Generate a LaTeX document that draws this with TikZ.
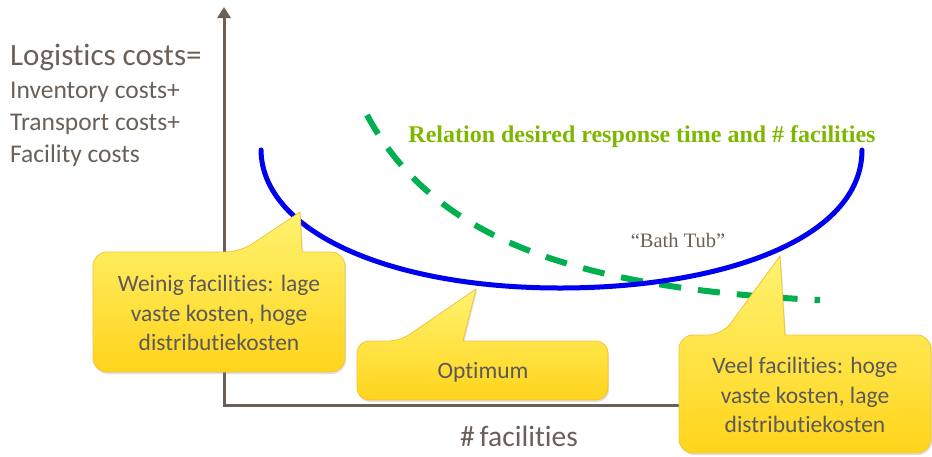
\documentclass[tikz,border=0pt]{standalone}
\usepackage{fontspec}
\setmainfont[Ligatures=NoCommon]{Carlito}
\newfontfamily\timesfont{Liberation Serif}
\usetikzlibrary{arrows.meta,positioning,shadows}
\definecolor{AxisGray}{HTML}{6B6058}
\definecolor{TubBlue}{HTML}{0000F0}
\definecolor{DashGreen}{HTML}{00B050}
\definecolor{TitleGreen}{HTML}{7DB800}
\definecolor{BubbleTop}{HTML}{FFF370}
\definecolor{BubbleBottom}{HTML}{FFD41C}
\definecolor{BubbleEdge}{HTML}{F2C53A}
\definecolor{BubbleText}{HTML}{5A5A5A}

\begin{document}
\begin{tikzpicture}[x=1pt,y=-1pt,
    axisline/.style={draw=AxisGray,line width=3pt},
    bubble/.style={draw=BubbleEdge,line width=0.8pt,top color=BubbleTop,
      bottom color=BubbleBottom,
      drop shadow={opacity=0.25,shadow xshift=1pt,shadow yshift=-2pt}},
    bubbletext/.style={text=BubbleText,align=center,inner sep=0pt,
      font=\fontsize{23.5}{29.5}\selectfont},
    costtext/.style={text=AxisGray,anchor=base west,inner sep=0pt,
      font=\fontsize{25.5}{30}\selectfont}]
  \useasboundingbox (0,0) rectangle (932,456);

  % axes
  \coordinate (origin) at (224,405);
  \coordinate (ytop) at (224,7);
  \coordinate (xend) at (700,405);
  \draw[axisline,-{Triangle[length=11pt,width=13pt]}] (origin) -- (ytop);
  \draw[axisline] ([xshift=-1.5pt]origin) -- (xend);
  \node[text=AxisGray,font=\fontsize{29.5}{34}\selectfont] (xlabel) at (519,436) {\#\,facilities};

  % cost labels
  \node[costtext,font=\fontsize{31}{36}\selectfont] (logcost) at (10,65) {Logistics costs=};
  \node[costtext] (invcost) at (10,98) {Inventory costs+};
  \node[costtext] (trcost) at (10,130) {Transport costs+};
  \node[costtext] (faccost) at (10,162) {Facility costs};

  % curves
  \draw[DashGreen,line width=6pt,dash pattern=on 22pt off 17pt]
    (367,115) .. controls (430,232) and (560,288) .. (820,300);
  \draw[TubBlue,line width=5pt,line cap=round]
    (261,150) .. controls (262,232) and (390,288) .. (560,288)
    .. controls (720,288) and (862,240) .. (862,150);
  \node[text=TitleGreen,font=\timesfont\bfseries\fontsize{24}{28}\selectfont] (relation) at (642,137)
    {Relation desired response time and \# facilities};
  \node[text=AxisGray,font=\timesfont\fontsize{20.5}{24}\selectfont] (bathtub) at (678,240) {“Bath Tub”};

  % callouts
  \path[bubble] (93,312) [rounded corners=14] -- (93,252) -- (240,252) [sharp corners]
    -- (300,212) -- (302,252) [rounded corners=14] -- (345,252) -- (345,372) -- (93,372) -- cycle;
  \node[bubbletext] (weinig) at (219,313) {Weinig facilities: lage\\vaste kosten, hoge\\distributiekosten};

  \path[bubble] (357,370) [rounded corners=12] -- (357,341) -- (400,341) [sharp corners]
    -- (476,289) -- (463,341) [rounded corners=12] -- (608,341) -- (608,400) -- (357,400) -- cycle;
  \node[bubbletext] (optimum) at (483,372) {Optimum};

  \path[bubble] (679,394) [rounded corners=14] -- (679,335) -- (722,335) [sharp corners]
    -- (780,256) -- (785,335) [rounded corners=14] -- (931,335) -- (931,453) -- (679,453) -- cycle;
  \node[bubbletext] (veel) at (805,395) {Veel facilities: hoge\\vaste kosten, lage\\distributiekosten};
\end{tikzpicture}
\end{document}
